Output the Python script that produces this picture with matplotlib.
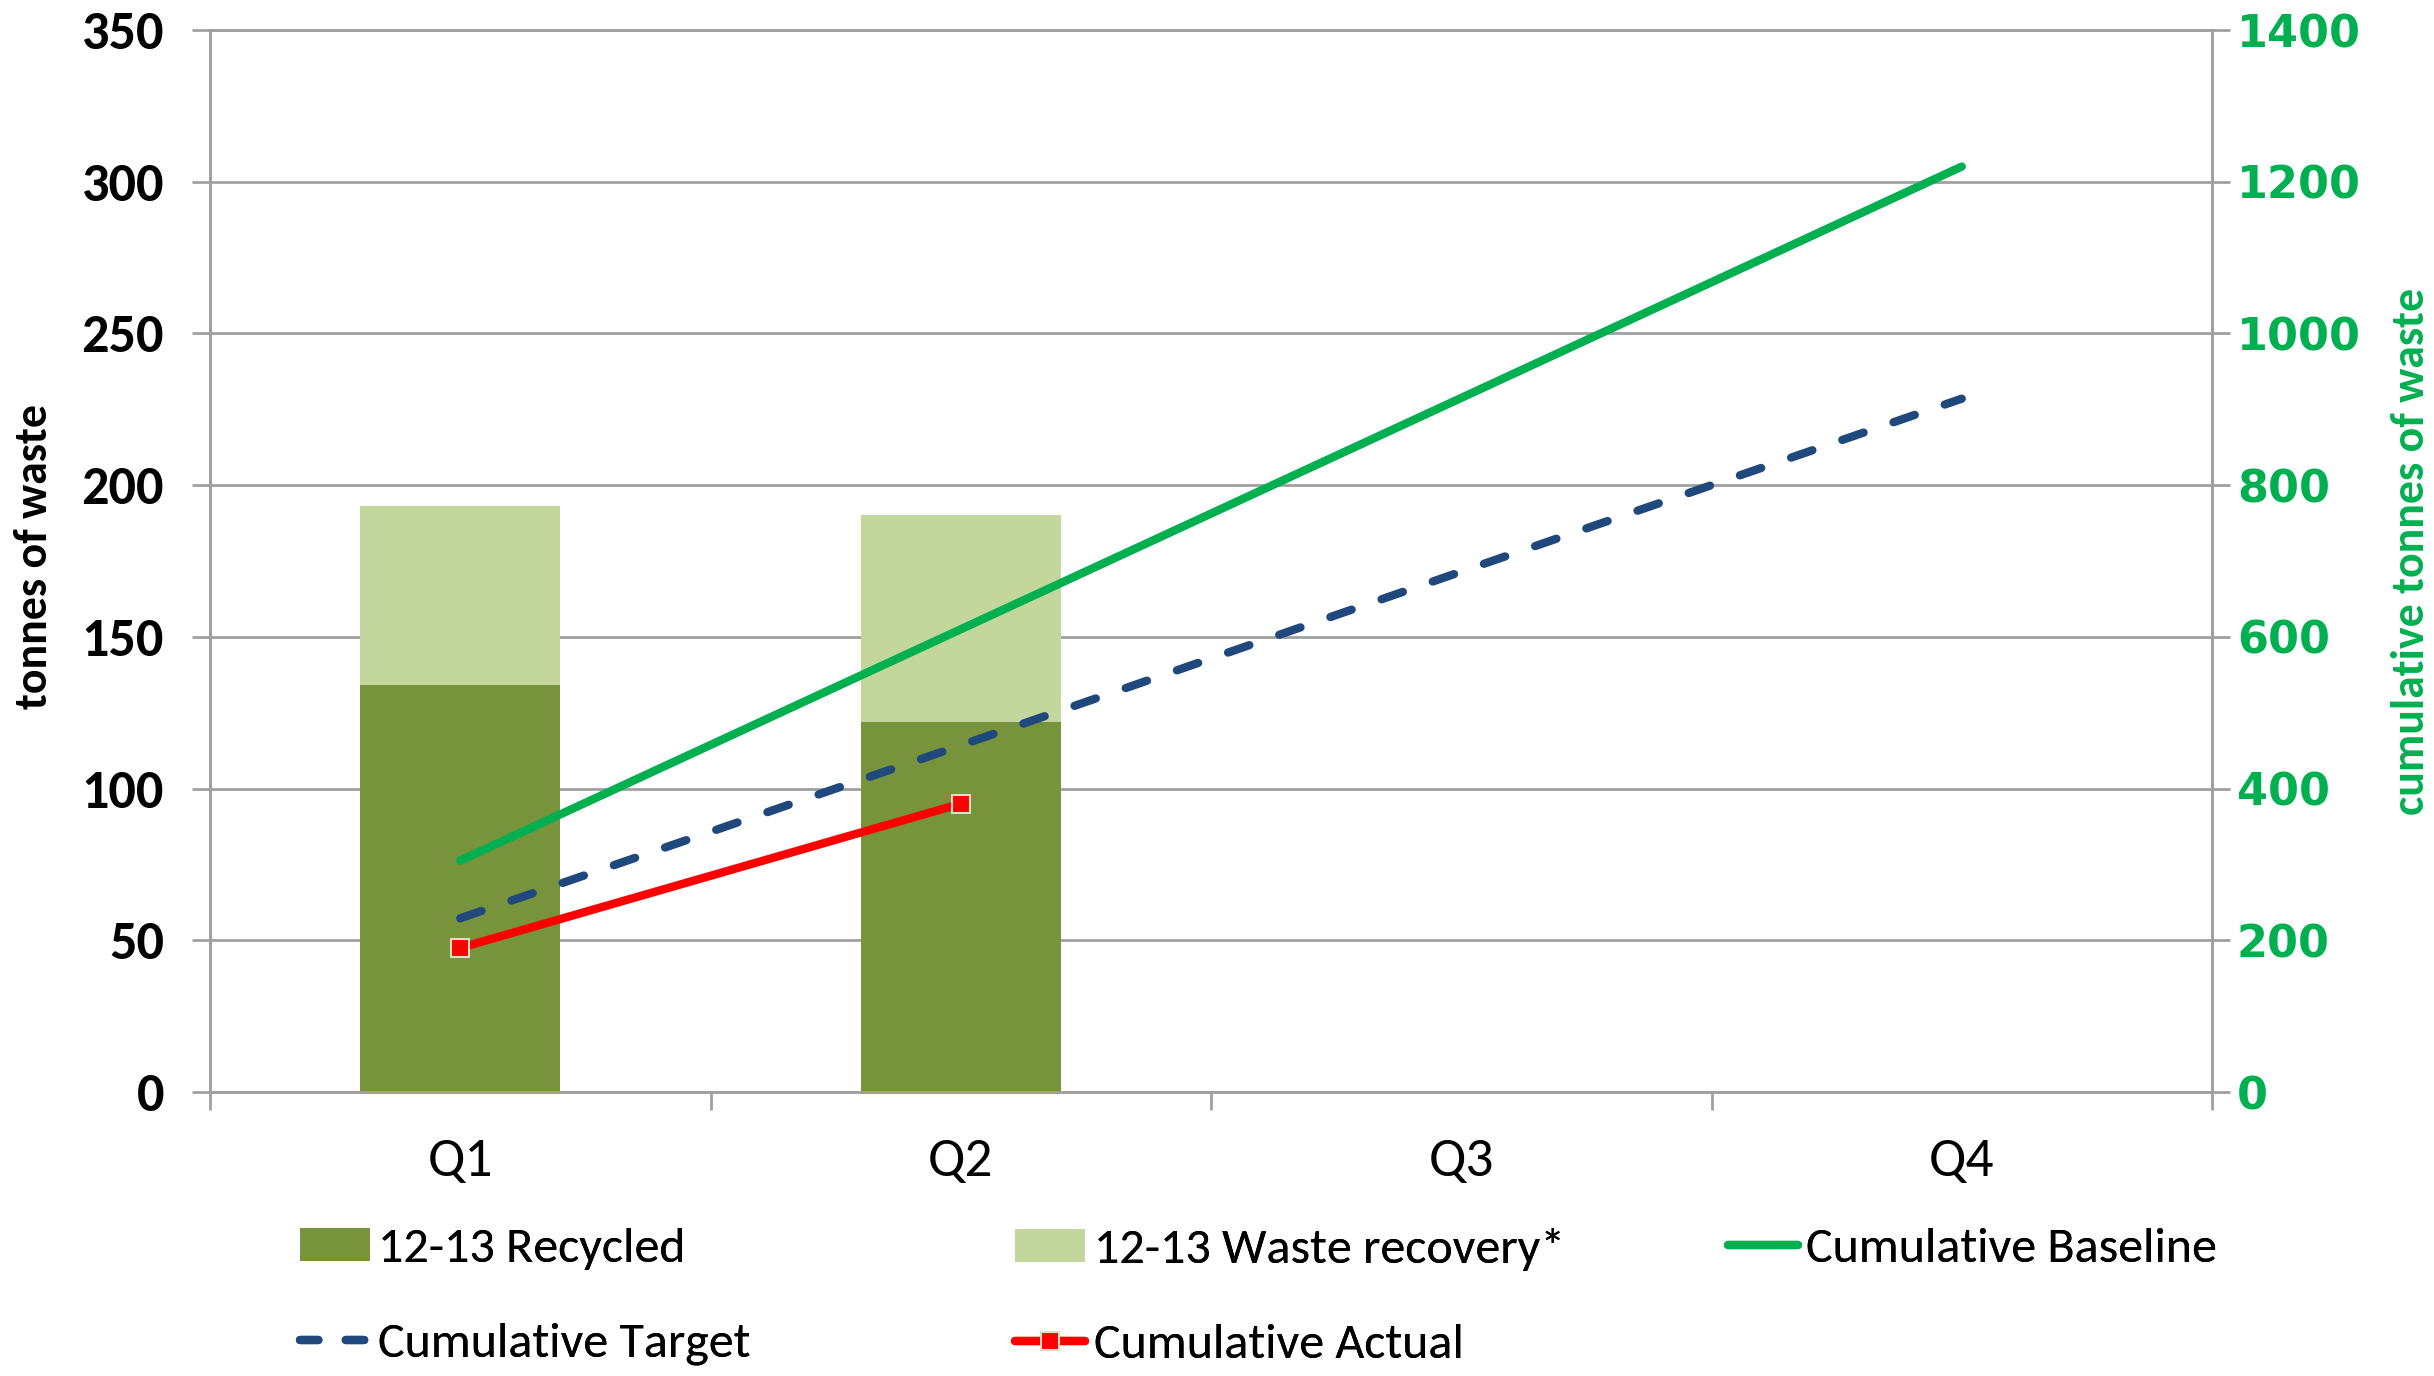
import matplotlib
matplotlib.use("Agg")
import matplotlib.pyplot as plt
import numpy as np
from matplotlib.patches import Patch
from matplotlib.lines import Line2D

# ---- data ----
quarters = ["Q1", "Q2", "Q3", "Q4"]
recycled = [134, 122, 0, 0]
waste_recovery = [59, 68, 0, 0]
cum_baseline = [305, 610, 915, 1220]
cum_target = [229, 457, 686, 914]
cum_actual = [190, 380]
left_ticks = [0, 50, 100, 150, 200, 250, 300, 350]
right_ticks = [0, 200, 400, 600, 800, 1000, 1200, 1400]

C_REC = "#77933C"
C_WR = "#C3D69B"
C_BASE = "#00B050"
C_TARGET = "#1F497D"
C_ACT = "#FF0000"
C_GRID = "#A0A0A0"
C_MEDGE = "#DCDFC6"

plt.rcParams["font.family"] = ["Carlito", "DejaVu Sans"]

W, H, DPI = 2434, 1376, 100
fig = plt.figure(figsize=(W / DPI, H / DPI), dpi=DPI)
L, R, T, B = 210, 2212, 30, 1092
ax = fig.add_axes([L / W, 1 - B / H, (R - L) / W, (B - T) / H])
ax2 = ax.twinx()

x = np.arange(len(quarters))
bw = 0.4
ax.bar(x, recycled, bw, color=C_REC, zorder=2)
ax.bar(x, waste_recovery, bw, bottom=recycled, color=C_WR, zorder=2)

ax.set_xlim(-0.5, 3.5)
ax.set_ylim(0, 350)
ax2.set_ylim(0, 1400)
ax.set_yticks(left_ticks)
ax2.set_yticks(right_ticks)

ax.grid(axis="y", color=C_GRID, linewidth=2, zorder=0)
ax.set_axisbelow(True)

lw = 6.0
dash = (2.7, 3.8)
ax2.plot(x, cum_baseline, color=C_BASE, lw=lw, solid_capstyle="round", zorder=3)
ax2.plot(x, cum_target, color=C_TARGET, lw=lw, dashes=dash,
         dash_capstyle="round", zorder=3)
ax2.plot(x[:len(cum_actual)], cum_actual, color=C_ACT, lw=lw,
         solid_capstyle="round", marker="s", markersize=13,
         markerfacecolor=C_ACT, markeredgecolor=C_MEDGE, markeredgewidth=1.5,
         zorder=4)

# x axis
ax.set_xticks(x)
ax.set_xticklabels(quarters, fontsize=40)
ax.tick_params(axis="x", which="major", length=0, pad=33)
ax.set_xticks([-0.5, 0.5, 1.5, 2.5, 3.5], minor=True)
ax.tick_params(axis="x", which="minor", length=13, width=2, color=C_GRID, direction="out")

# left y axis
ax.tick_params(axis="y", length=13, width=2, color=C_GRID, direction="out", pad=20,
               labelsize=39)
for lab in ax.get_yticklabels():
    lab.set_fontweight("bold")

# right y axis
ax2.tick_params(axis="y", length=13, width=2, color=C_GRID, direction="out", pad=5,
                labelsize=32, labelcolor=C_BASE)
for lab in ax2.get_yticklabels():
    lab.set_fontweight("bold")
    lab.set_family("DejaVu Sans")

fig.text(34 / W, 1 - 556 / H, "tonnes of waste", rotation=90, ha="center",
         va="center", fontsize=33, fontweight="bold", color="black")
fig.text(2411 / W, 1 - 551 / H, "cumulative tonnes of waste", rotation=90,
         ha="center", va="center", fontsize=33, fontweight="bold", color=C_BASE)

for a in (ax, ax2):
    for s in a.spines.values():
        s.set_color(C_GRID)
        s.set_linewidth(2)

# legend
h_rec = Patch(facecolor=C_REC, edgecolor="none")
h_wr = Patch(facecolor=C_WR, edgecolor="none")
h_base = Line2D([], [], color=C_BASE, lw=lw, solid_capstyle="round")
h_tar = Line2D([], [], color=C_TARGET, lw=lw, dashes=(2.2, 3.3), dash_capstyle="round")
h_act = Line2D([], [], color=C_ACT, lw=lw, solid_capstyle="round", marker="s",
               markersize=13, markerfacecolor=C_ACT, markeredgecolor=C_MEDGE,
               markeredgewidth=1.5)

leg_kw = dict(frameon=False, fontsize=36, handlelength=1.4, handleheight=0.62,
              handletextpad=0.17, labelspacing=1.05, borderpad=0, borderaxespad=0,
              loc="upper left")
col_groups = [([h_rec, h_tar], ["12-13 Recycled", "Cumulative Target"], 300),
              ([h_wr, h_act], ["12-13 Waste recovery*", "Cumulative Actual"], 1015),
              ([h_base], ["Cumulative Baseline"], 1728)]
for hs, ls, xpx in col_groups:
    lg = fig.legend(hs, ls, bbox_to_anchor=(xpx / W, 1 - 1228 / H), **leg_kw)
    fig.add_artist(lg)

fig.savefig("out.png", dpi=DPI)
